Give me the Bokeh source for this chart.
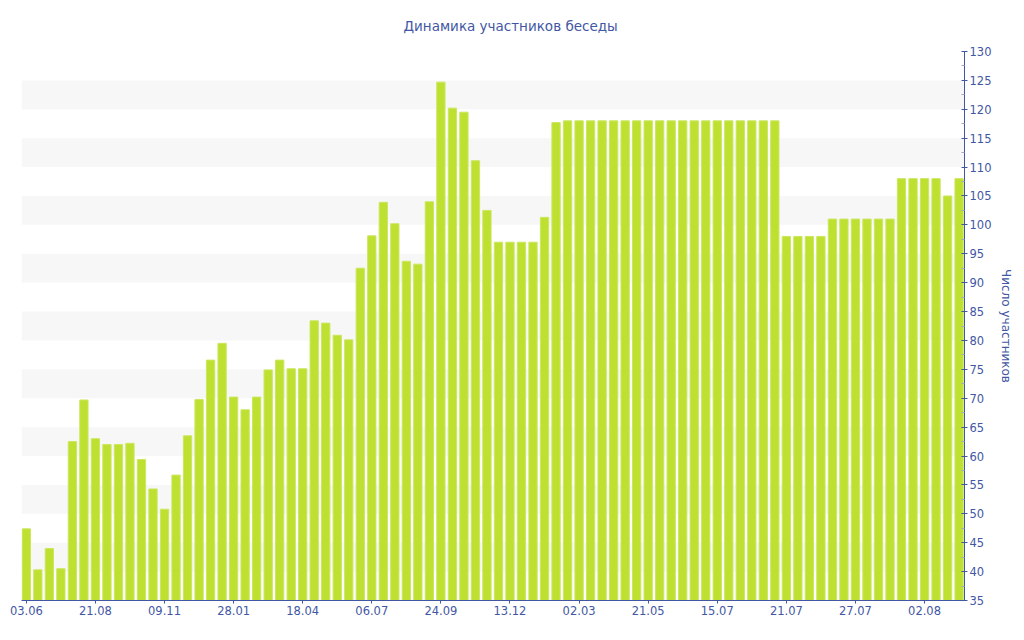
from bokeh.plotting import figure
from bokeh.models import Range1d, FixedTicker, BoxAnnotation, ColumnDataSource
from bokeh.embed import file_html
from bokeh.resources import INLINE

# ---- data ----
tick_labels = ["03.06", "21.08", "09.11", "28.01", "18.04", "06.07", "24.09",
               "13.12", "02.03", "21.05", "15.07", "21.07", "27.07", "02.08"]
tick_step = 6

members = [
    47.4, 40.3, 44.0, 40.5, 62.5, 69.7, 63.0, 62.0, 62.0, 62.2,
    59.4, 54.3, 50.8, 56.7, 63.5, 69.8, 76.6, 79.5, 70.2, 68.0,
    70.2, 74.9, 76.6, 75.1, 75.1, 83.4, 83.0, 80.9, 80.1, 92.5,
    98.1, 103.9, 100.2, 93.7, 93.2, 104.0, 124.7, 120.2, 119.5, 111.1,
    102.5, 97.0, 97.0, 97.0, 97.0, 101.3, 117.7,
    118, 118, 118, 118, 118, 118, 118, 118, 118, 118,
    118, 118, 118, 118, 118, 118, 118, 118, 118,
    98, 98, 98, 98,
    101, 101, 101, 101, 101, 101,
    108, 108, 108, 108,
    105, 108,
]
idx = list(range(len(members)))

title_text = "Динамика участников беседы"
y_label = "Число участников"
y_min, y_max, y_step = 35, 130, 5

# ---- style ----
BLUE = "#4257a3"
FONT = "DejaVu Sans"

p = figure(width=1016, height=632, output_backend="svg", toolbar_location=None,
           x_range=Range1d(-0.42, len(members) - 0.53),
           y_range=Range1d(y_min, y_max),
           y_axis_location="right",
           min_border_left=21, min_border_right=52,
           min_border_top=51, min_border_bottom=32)
p.outline_line_color = None
p.xgrid.visible = False
p.ygrid.visible = False
p.background_fill_color = "white"

# alternating bands
for b in range(y_min + 5, y_max - 5, 10):
    p.add_layout(BoxAnnotation(bottom=b, top=b + 5, fill_color="#f7f7f7",
                               fill_alpha=1.0, line_color=None, level="underlay"))

src = ColumnDataSource(dict(x=idx, top=members))
p.vbar(x="x", top="top", bottom=y_min, width=0.72, source=src,
       fill_color="#bde031", line_color="#cbe760", line_width=1)

# title
p.title.text = title_text
p.title.align = "left"
p.title.offset = 382
p.title.standoff = 32
p.title.vertical_align = "top"
p.title.text_font = FONT
p.title.text_font_size = "13.5px"
p.title.text_font_style = "normal"
p.title.text_color = BLUE

# x axis
xa = p.xaxis[0]
xa.ticker = FixedTicker(ticks=[i * tick_step for i in range(len(tick_labels))])
xa.major_label_overrides = {i * tick_step: lab for i, lab in enumerate(tick_labels)}
xa.major_label_text_font = FONT
xa.major_label_text_font_size = "11.5px"
xa.major_label_text_color = BLUE
xa.axis_line_color = BLUE
xa.major_tick_line_color = BLUE
xa.major_tick_in = 0
xa.major_tick_out = 3
xa.minor_tick_line_color = None
xa.major_label_standoff = 2

# y axis (right)
ya = p.yaxis[0]
ya.ticker = FixedTicker(ticks=list(range(y_min, y_max + 1, y_step)),
                        minor_ticks=[v + 2.5 for v in range(y_min, y_max, y_step)])
ya.major_label_text_font = FONT
ya.major_label_text_font_size = "11.5px"
ya.major_label_text_color = BLUE
ya.axis_line_color = BLUE
ya.major_tick_line_color = BLUE
ya.major_tick_in = 3
ya.major_tick_out = 3
ya.minor_tick_line_color = "#a0a8c8"
ya.minor_tick_in = 3
ya.minor_tick_out = 0
ya.major_label_standoff = 2
ya.axis_label = y_label
ya.axis_label_text_font = FONT
ya.axis_label_text_font_size = "12px"
ya.axis_label_text_font_style = "normal"
ya.axis_label_text_color = BLUE
ya.axis_label_standoff = 5

open("out.html", "w").write(file_html(p, INLINE))
